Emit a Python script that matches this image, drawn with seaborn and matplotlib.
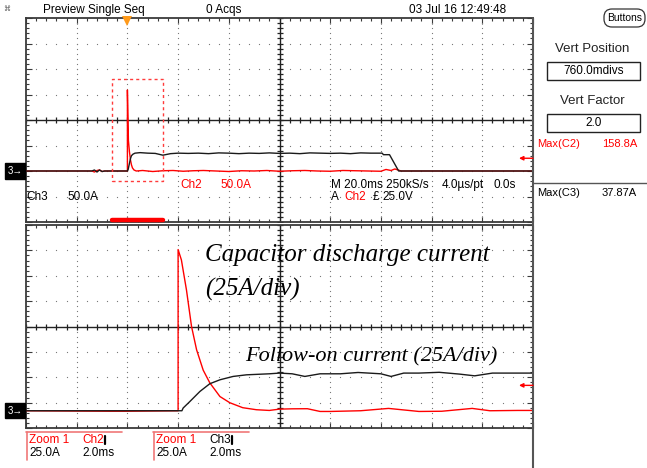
import numpy as np
import matplotlib
matplotlib.use("Agg")
import matplotlib.pyplot as plt
import matplotlib.transforms as mtransforms
from matplotlib.patches import Rectangle, FancyBboxPatch
import seaborn as sns

# ---------------- measured values ----------------
MAX_C2 = 158.8      # A, capacitor discharge peak
MAX_C3 = 37.87      # A, follow-on current peak
TRIG_LEVEL = 25.0   # trigger level on Ch2

# Main record (20 ms/div, 50 A/div), time in ms
CH3_T = [-40, -14, -13, -12, -11, -10, -9, 0, 0.3, 0.8, 1.2, 1.6, 2.2, 3, 5, 8, 11, 14,
         17, 20, 24, 28, 32, 36, 40, 44, 48, 52, 56, 60, 64, 68, 72, 76, 80, 84, 88, 92,
         96, 100.5, 101, 103.4, 107, 160]
CH3_A = [0, 0, 2, -2, 2, -1, 0, 0, 3, 15, 24, 30, 33, 35, 36, 35, 34.5, 31,
         34, 35, 34.5, 35, 34, 35.5, 35, 34, 35, 34.5, 35.5, 34.5, 35, 34, 35.5, 35, 34.5, 35, 34, 35.5,
         35, 35, 32, 32, 0, 0]
CH2_T = [-40, -14, -13, -12, -11, -10, -9, 0, 0, 0.4, 0.8, 1.2, 1.6, 2.0, 2.6, 3.5, 6, 10,
         14, 18, 22, 26, 30, 35, 40, 45, 50, 55, 60, 65, 70, 75, 80, 85, 90, 95, 100, 102,
         104, 105.5, 108, 160]
CH2_A = [0, 0, -2, 1, 2, -1, 0, 0, MAX_C2, 60, 38, 22, 12, 6, 2, 0, 1, -1,
         0.5, 1, -0.5, 0.5, 1, 0, -1, 0.5, 0, 1, -0.5, 0.5, 1, 0, -0.5, 1, 0.5, 0, -0.5, 3,
         1, 4, 0, 0]

# Zoom 1 record (2 ms/div, 25 A/div)
ZCH2_T = [-6, -2.7, -2.1, 0, 0, 0.13, 0.33, 0.53, 0.73, 0.99, 1.25, 1.65, 2.04, 2.55, 3.09,
          3.6, 4.0, 4.5, 5.1, 5.6, 6.0, 7.2, 8.3, 9.5, 10.4, 11.6, 12.3, 13.4, 14]
ZCH2_A = [0, -0.5, -0.5, 0, MAX_C2, 148.6, 119, 83, 60, 40, 27.5, 14, 7.9, 3, 1,
          0.3, 1.6, 1.9, 2, -0.7, -0.7, 0, 2.3, -0.7, -0.5, 2.3, 0, 0.3, 0.3]
ZCH3_T = [-6, 0.15, 0.2, 0.46, 0.86, 1.25, 1.65, 2.17, 2.7, 3.6, 4.0, 4.5, 5.0, 5.6, 6.4,
          7.1, 8.0, 8.4, 8.9, 9.5, 10.3, 11.1, 11.7, 12.4, 12.9, 13.5, 14]
ZCH3_A = [0, 0, 2.7, 9, 19, 26.6, 30.5, 33.8, 35.4, 36.4, 37.1, 36.4, 33.8, 36.4, 36.4,
          37.7, 36.4, 33.8, 37.1, 37.1, MAX_C3, 36.1, 34.4, 37.1, 37.1, 37.1, 37.1]

# ---------------- figure ----------------
sns.set_style("white")
plt.rcParams["font.family"] = ["Liberation Sans", "DejaVu Sans"]
plt.rcParams["text.color"] = "black"

W, H = 647, 468
fig = plt.figure(figsize=(W / 100, H / 100), dpi=100)


def px_axes(left, top, right, bottom, **kw):
    return fig.add_axes([left / W, (H - bottom) / H, (right - left) / W, (bottom - top) / H], **kw)


ax_up = px_axes(26, 18, 533, 222)
ax_lo = px_axes(26, 225, 533, 428)
ov = fig.add_axes([0, 0, 1, 1], facecolor="none")
ov.set_xlim(0, W)
ov.set_ylim(H, 0)
ov.axis("off")
ov.set_zorder(5)

GRID = "#7a7a7a"
EDGE = "#3a3a3a"


def scope_grid(ax, x0, xdiv, y0, ydiv):
    xmaj = x0 + xdiv * np.arange(11)
    ymaj = y0 + ydiv * np.arange(9)
    xmin = x0 + xdiv / 5 * np.arange(51)
    ymin = y0 + ydiv / 5 * np.arange(41)
    ax.set_xlim(xmaj[0], xmaj[-1])
    ax.set_ylim(ymaj[0], ymaj[-1])
    ax.set_xticks(xmaj)
    ax.set_xticks(xmin, minor=True)
    ax.set_yticks(ymaj)
    ax.set_yticks(ymin, minor=True)
    ax.tick_params(which="both", direction="in", top=True, right=True, bottom=True, left=True,
                   labelbottom=False, labelleft=False, color=EDGE, width=0.8)
    ax.tick_params(which="major", length=4.5)
    ax.tick_params(which="minor", length=2.2)
    for s in ax.spines.values():
        s.set_color(EDGE)
        s.set_linewidth(1.3)
    for i, xv in enumerate(xmaj[1:-1], start=1):
        if i == 5:
            continue
        ax.plot(np.full(len(ymin), xv), ymin, ls="none", marker="s", ms=0.8, mew=0, color=GRID, zorder=1)
    for j, yv in enumerate(ymaj[1:-1], start=1):
        if j == 4:
            continue
        ax.plot(xmin, np.full(len(xmin), yv), ls="none", marker="s", ms=0.8, mew=0, color=GRID, zorder=1)
    # centre cross with its minor ticks
    ax.axhline(ymaj[4], color="#222222", lw=1.0, zorder=1)
    ax.axvline(xmaj[5], color="#222222", lw=1.0, zorder=1)
    ax.plot(xmin, np.full(len(xmin), ymaj[4]), ls="none", marker="|", ms=4.5, mew=0.9, color="#222222", zorder=1)
    ax.plot(np.full(len(ymin), xmaj[5]), ymin, ls="none", marker="_", ms=4.5, mew=0.9, color="#222222", zorder=1)


scope_grid(ax_up, -40, 20, -100, 50)
scope_grid(ax_lo, -6, 2, -17, 25)

# traces (Ch2 red under Ch3 black)
sns.lineplot(x=CH2_T, y=CH2_A, ax=ax_up, estimator=None, sort=False, color="#ff0000", lw=1.0, zorder=3)
sns.lineplot(x=CH3_T, y=CH3_A, ax=ax_up, estimator=None, sort=False, color="#1a1a1a", lw=1.0, zorder=4)
sns.lineplot(x=ZCH2_T, y=ZCH2_A, ax=ax_lo, estimator=None, sort=False, color="#ff0000", lw=1.0, zorder=3)
sns.lineplot(x=ZCH3_T, y=ZCH3_A, ax=ax_lo, estimator=None, sort=False, color="#1a1a1a", lw=1.0, zorder=4)

# zoom window on main record
ZOOM_T0, ZOOM_T1 = ZCH2_T[0], ZCH2_T[-1]
ax_up.add_patch(Rectangle((ZOOM_T0, -20), ZOOM_T1 - ZOOM_T0, 200, fill=False, ec="#ff3b3b",
                          lw=1.0, ls=(0, (2.2, 2.2)), zorder=5))
bar_tr = mtransforms.blended_transform_factory(ax_up.transData, ax_up.transAxes)
ax_up.plot([ZOOM_T0, ZOOM_T1], [0.01, 0.01], transform=bar_tr, color="#ff0000", lw=3.2,
           solid_capstyle="round", clip_on=False, zorder=6)
# trigger position marker
ax_up.plot([0], [0.985], transform=bar_tr, marker="v", ms=7, color="#ff9a1a", mew=0,
           clip_on=False, zorder=6)

# channel reference markers and trigger-level arrows
for ax in (ax_up, ax_lo):
    tr = mtransforms.blended_transform_factory(ov.transData, ax.transData)
    ov.text(15, 0, "3\u2192", transform=tr, color="white", fontsize=7, ha="center", va="center",
            bbox=dict(boxstyle="square,pad=0.28", fc="black", ec="black"))
    ov.annotate("", xy=(519, TRIG_LEVEL), xytext=(533, TRIG_LEVEL), xycoords=tr, textcoords=tr,
                arrowprops=dict(arrowstyle="-|>", color="#ff0000", lw=1.0, mutation_scale=6,
                                shrinkA=0, shrinkB=0))

# frame lines
ov.plot([533, 533], [18, 468], color="#555555", lw=1.5)
ov.plot([533, 647], [183, 183], color="#555555", lw=1.0)

# header
FS = 8.5
ov.text(7, 9, "\u2318", fontsize=5, color="#666666", ha="center", va="center", family="DejaVu Sans")
ov.text(43, 10, "Preview Single Seq", fontsize=FS, va="center")
ov.text(206, 10, "0 Acqs", fontsize=FS, va="center")
ov.text(409, 10, "03 Jul 16 12:49:48", fontsize=FS, va="center")

# side panel
ov.add_patch(FancyBboxPatch((604, 9), 41, 18, boxstyle="round,pad=0,rounding_size=8",
                            fc="white", ec="#333333", lw=0.9))
ov.text(624.5, 18, "Buttons", fontsize=7.5, ha="center", va="center")
ov.text(592, 49, "Vert Position", fontsize=9.5, ha="center", va="center", color="#222222")
ov.add_patch(Rectangle((547, 62), 93, 18, fill=False, ec="#222222", lw=1.0))
ov.text(593.5, 71, "760.0mdivs", fontsize=8.5, ha="center", va="center")
ov.text(592, 101, "Vert Factor", fontsize=9.5, ha="center", va="center", color="#222222")
ov.add_patch(Rectangle((547, 114), 93, 18, fill=False, ec="#222222", lw=1.0))
ov.text(593.5, 123, "2.0", fontsize=8.5, ha="center", va="center")
ov.text(537, 144, "Max(C2)", fontsize=8, va="center", color="#ff0000")
ov.text(637, 144, f"{MAX_C2:.1f}A", fontsize=8, va="center", ha="right", color="#ff0000")
ov.text(537, 193, "Max(C3)", fontsize=8, va="center")
ov.text(637, 193, f"{MAX_C3:.2f}A", fontsize=8, va="center", ha="right")

# readouts inside the main record
ov.text(26, 197, "Ch3", fontsize=FS, va="center")
ov.text(67, 197, "50.0A", fontsize=FS, va="center")
ov.text(180, 185, "Ch2", fontsize=FS, va="center", color="#ff0000")
ov.text(220, 185, "50.0A", fontsize=FS, va="center", color="#ff0000")
ov.text(331, 185, "M 20.0ms 250kS/s", fontsize=FS, va="center")
ov.text(442, 185, "4.0\u00b5s/pt", fontsize=FS, va="center")
ov.text(494, 185, "0.0s", fontsize=FS, va="center")
ov.text(331, 197, "A", fontsize=FS, va="center")
ov.text(344, 197, "Ch2", fontsize=FS, va="center", color="#ff0000")
ov.text(373, 197, "\u00a3", fontsize=FS, va="center")
ov.text(382, 197, "25.0V", fontsize=FS, va="center")

# zoom readout tabs
for x0, ch, ch_col in ((26, "Ch2", "#ff0000"), (153, "Ch3", "black")):
    ov.plot([x0, x0 + 96], [432, 432], color="#f07878", lw=1.2)
    ov.plot([x0 + 1, x0 + 1], [432, 460], color="#f07878", lw=1.2)
    ov.text(x0 + 3, 440, "Zoom 1", fontsize=FS, va="center", color="#ff0000")
    ov.text(x0 + 56, 440, ch, fontsize=FS, va="center", color=ch_col)
    ov.plot([x0 + 79, x0 + 79], [436, 444], color="black", lw=1.6)
    ov.text(x0 + 3, 453, "25.0A", fontsize=FS, va="center")
    ov.text(x0 + 56, 453, "2.0ms", fontsize=FS, va="center")

# trace captions
serif = ["Liberation Serif", "DejaVu Serif"]
ov.text(205, 255, "Capacitor discharge current", fontsize=18, style="italic", family=serif, va="center")
ov.text(205, 289, "(25A/div)", fontsize=18, style="italic", family=serif, va="center")
ov.text(245, 357, "Follow-on current (25A/div)", fontsize=16, style="italic", family=serif, va="center")

fig.savefig("out.png", dpi=100)
